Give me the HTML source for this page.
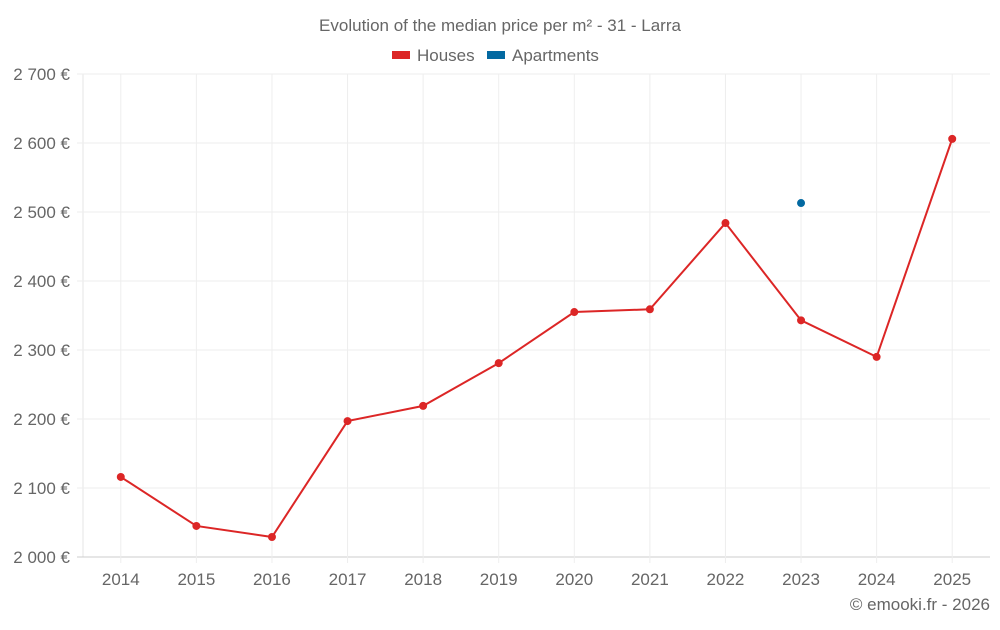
<!DOCTYPE html>
<html><head><meta charset="utf-8"><style>
body{margin:0;background:#fff;font-family:"Liberation Sans",sans-serif;}
svg text{font-family:"Liberation Sans",sans-serif;fill:#666;}
</style></head><body>
<svg id="chart" width="1000" height="625" xmlns="http://www.w3.org/2000/svg">
<text x="500" y="31" text-anchor="middle" font-size="17">Evolution of the median price per m² - 31 - Larra</text>
<g>
<g><rect x="392" y="51" width="18" height="8" fill="#dc2626"/><text x="417" y="61" font-size="17">Houses</text></g>
<g><rect x="487" y="51" width="18" height="8" fill="#0369a1"/><text x="512" y="61" font-size="17">Apartments</text></g>
</g>
<g id="grid"></g>
<g id="yaxis"></g>
<g id="xaxis"></g>
<g id="series"></g>
<text x="990" y="610" text-anchor="end" font-size="17">© emooki.fr - 2026</text>
</svg>
<script>
const years=["2014","2015","2016","2017","2018","2019","2020","2021","2022","2023","2024","2025"];
const houses=[2116,2045,2029,2197,2219,2281,2355,2359,2484,2343,2290,2606];
const apartments=[null,null,null,null,null,null,null,null,null,2513,null,null];
const yTicks=[2000,2100,2200,2300,2400,2500,2600,2700];
const yTickLabels=["2 000 €","2 100 €","2 200 €","2 300 €","2 400 €","2 500 €","2 600 €","2 700 €"];
const NS="http://www.w3.org/2000/svg";
const L=83,R=990,T=74,B=557,yMin=2000,yMax=2700;
const band=(R-L)/years.length;
const x=i=>L+band*(i+0.5);
const y=v=>B-(v-yMin)/(yMax-yMin)*(B-T);
function mk(tag,attrs,parent){const e=document.createElementNS(NS,tag);for(const k in attrs)e.setAttribute(k,attrs[k]);parent.appendChild(e);return e;}
const grid=document.getElementById('grid'),ya=document.getElementById('yaxis'),xa=document.getElementById('xaxis'),s=document.getElementById('series');
const edge=mk('line',{x1:L,x2:L,y1:T,y2:B,stroke:'#e6e6e6'},grid);


yTicks.forEach((t,i)=>{
 const ln=mk('line',{x1:L-6,x2:R,y1:y(t),y2:y(t),stroke:i===0?'#ccc':'#eee'},grid);
 
 
 const tx=mk('text',{x:70,y:y(t)+6,'text-anchor':'end','font-size':17},ya);
 tx.textContent=yTickLabels[i];
 
 
});
years.forEach((yr,i)=>{
 const ln=mk('line',{x1:x(i),x2:x(i),y1:T,y2:B+6,stroke:'#eee'},grid);
 
 
 const tx=mk('text',{x:x(i),y:585,'text-anchor':'middle','font-size':17},xa);
 tx.textContent=yr;
 
 
});
const pts=houses.map((v,i)=>v==null?null:[x(i),y(v)]).filter(p=>p);
const pl=mk('polyline',{points:pts.map(p=>p.join(',')).join(' '),fill:'none',stroke:'#dc2626','stroke-width':2},s);


houses.forEach((v,i)=>{if(v==null)return;
 const c=mk('circle',{cx:x(i),cy:y(v),r:4,fill:'#dc2626'},s);
 
 
});
apartments.forEach((v,i)=>{if(v==null)return;
 const c=mk('circle',{cx:x(i),cy:y(v),r:4,fill:'#0369a1'},s);
 
 
});
</script>
</body></html>
